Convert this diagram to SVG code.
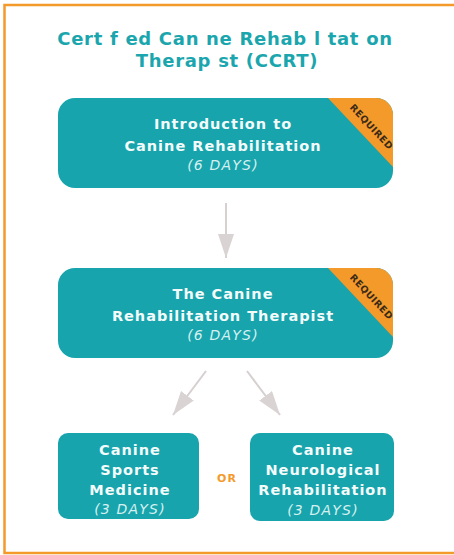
<svg xmlns="http://www.w3.org/2000/svg" width="454" height="555" viewBox="0 0 454 555">
<style>
.title{font-family:"DejaVu Sans",sans-serif;font-weight:bold;font-size:18px;letter-spacing:0.7px;fill:#1ba6ae;text-anchor:middle}
.box{fill:#17a4ac}
.tag{fill:#f39a2b}
.lbl{font-family:"DejaVu Sans",sans-serif;font-weight:bold;font-size:14.5px;letter-spacing:1px;fill:#f4fbfb;text-anchor:middle}
.days{font-family:"DejaVu Sans",sans-serif;font-style:italic;font-size:14px;letter-spacing:1.2px;fill:#d6f0f1;text-anchor:middle}
.req{font-family:"DejaVu Sans",sans-serif;font-weight:bold;font-size:9.5px;letter-spacing:0.4px;fill:#3b2a18;text-anchor:middle}
.or{font-family:"DejaVu Sans",sans-serif;font-weight:bold;font-size:11px;letter-spacing:1px;fill:#f39a2b;text-anchor:middle}
.conn{stroke:#d6d0d0;stroke-width:2;fill:none}
</style>
<defs>
<marker id="ah" markerUnits="userSpaceOnUse" markerWidth="26" markerHeight="18" refX="24" refY="8" orient="auto">
<path d="M0,0 L24,8 L0,16 Z" fill="#dad3d3"/>
</marker>
</defs>
<path d="M455,5 H4.5 V553 H455" fill="none" stroke="#f39a2b" stroke-width="2.5"/>
<g id="title">
<text class="title" x="225" y="45">Cert f ed Can ne Rehab l tat on</text>
<text class="title" x="227" y="67">Therap st (CCRT)</text>
</g>
<g id="connectors">
<path class="conn" d="M226,203 L226,258" marker-end="url(#ah)"/>
<path class="conn" d="M206,371 L173,415" marker-end="url(#ah)"/>
<path class="conn" d="M247,371 L280,415" marker-end="url(#ah)"/>
</g>
<g id="intro">
<rect class="box" x="58" y="98" width="335" height="90" rx="17"/>
<path class="tag" d="M328,98 L376,98 A17,17 0 0 1 393,115 L393,167 Z"/>
<text class="req" transform="translate(369,129) rotate(47)">REQUIRED</text>
<text class="lbl" x="223" y="129">Introduction to</text>
<text class="lbl" x="223" y="151">Canine Rehabilitation</text>
<text class="days" x="223" y="170">(6 DAYS)</text>
</g>
<g id="therapist">
<rect class="box" x="58" y="268" width="335" height="90" rx="17"/>
<path class="tag" d="M328,268 L376,268 A17,17 0 0 1 393,285 L393,337 Z"/>
<text class="req" transform="translate(369,299) rotate(47)">REQUIRED</text>
<text class="lbl" x="223" y="299">The Canine</text>
<text class="lbl" x="223" y="321">Rehabilitation Therapist</text>
<text class="days" x="223" y="340">(6 DAYS)</text>
</g>
<g id="sports">
<rect class="box" x="58" y="433" width="141" height="86" rx="10"/>
<text class="lbl" x="130" y="455">Canine</text>
<text class="lbl" x="130" y="475">Sports</text>
<text class="lbl" x="130" y="495">Medicine</text>
<text class="days" x="130" y="514">(3 DAYS)</text>
</g>
<g id="or">
<text class="or" x="227" y="482">OR</text>
</g>
<g id="neuro">
<rect class="box" x="250" y="433" width="144" height="88" rx="10"/>
<text class="lbl" x="323" y="455">Canine</text>
<text class="lbl" x="323" y="475">Neurological</text>
<text class="lbl" x="323" y="495">Rehabilitation</text>
<text class="days" x="323" y="515">(3 DAYS)</text>
</g>
</svg>
